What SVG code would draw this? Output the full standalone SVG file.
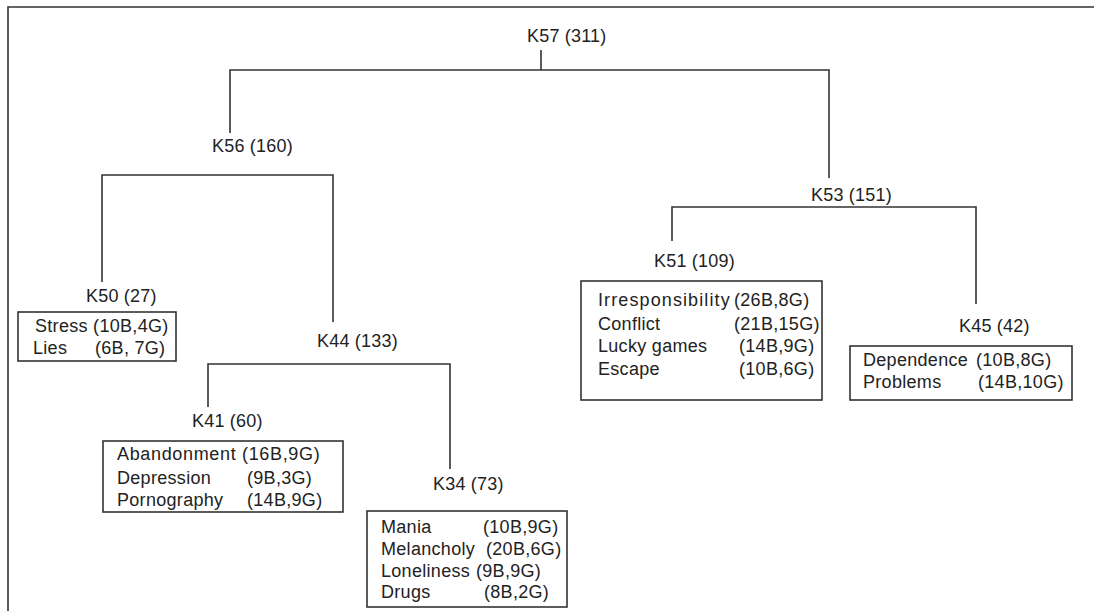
<svg xmlns="http://www.w3.org/2000/svg" width="1094" height="611" viewBox="0 0 1094 611">
<style>
text{font-family:"Liberation Sans",Arial,sans-serif;font-size:18px;fill:#222;letter-spacing:0.3px}
.lbl{letter-spacing:0.2px}
.ln{stroke:#333;stroke-width:1.6;fill:none}
.box{stroke:#333;stroke-width:1.6;fill:#fff}
</style>
<rect width="1094" height="611" fill="#fff"/>
<g id="frame"><path class="ln" d="M8,611 V7 H1094" stroke-width="2"/></g>
<g id="connectors">
<path class="ln" d="M541,50 V70 M230,133 V70 H829 V178"/>
<path class="ln" d="M102,282 V175 H333 V322"/>
<path class="ln" d="M208,407 V364 H450 V469"/>
<path class="ln" d="M672,241 V207 H976 V304"/>
</g>
<g id="K57"><text class="lbl" x="527" y="42">K57 (311)</text></g>
<g id="K56"><text class="lbl" x="212" y="152">K56 (160)</text></g>
<g id="K53"><text class="lbl" x="811" y="201">K53 (151)</text></g>
<g id="K50">
<text class="lbl" x="86" y="302">K50 (27)</text>
<rect class="box" x="18" y="312" width="158" height="49"/>
<text x="35" y="332">Stress (10B,4G)</text>
<text x="33" y="354">Lies</text><text x="95" y="354">(6B, 7G)</text>
</g>
<g id="K44"><text class="lbl" x="317" y="347">K44 (133)</text></g>
<g id="K41">
<text class="lbl" x="192" y="427">K41 (60)</text>
<rect class="box" x="103" y="441" width="240" height="71"/>
<text x="117" y="460" textLength="203" lengthAdjust="spacing">Abandonment (16B,9G)</text>
<text x="117" y="484">Depression</text><text x="247" y="484">(9B,3G)</text>
<text x="117" y="506">Pornography</text><text x="247" y="506">(14B,9G)</text>
</g>
<g id="K34">
<text class="lbl" x="433" y="490">K34 (73)</text>
<rect class="box" x="367" y="511" width="200" height="96"/>
<text x="381" y="533">Mania</text><text x="483" y="533">(10B,9G)</text>
<text x="381" y="555">Melancholy</text><text x="486" y="555">(20B,6G)</text>
<text x="381" y="577">Loneliness</text><text x="476" y="577">(9B,9G)</text>
<text x="381" y="598">Drugs</text><text x="484" y="598">(8B,2G)</text>
</g>
<g id="K51">
<text class="lbl" x="654" y="267">K51 (109)</text>
<rect class="box" x="581" y="281" width="241" height="119"/>
<text x="598" y="306" textLength="132" lengthAdjust="spacing">Irresponsibility</text><text x="734" y="306">(26B,8G)</text>
<text x="598" y="330">Conflict</text><text x="734" y="330">(21B,15G)</text>
<text x="598" y="352">Lucky games</text><text x="739" y="352">(14B,9G)</text>
<text x="598" y="375">Escape</text><text x="739" y="375">(10B,6G)</text>
</g>
<g id="K45">
<text class="lbl" x="959" y="332">K45 (42)</text>
<rect class="box" x="850" y="346" width="222" height="54"/>
<text x="863" y="366">Dependence</text><text x="976" y="366">(10B,8G)</text>
<text x="863" y="388">Problems</text><text x="978" y="388">(14B,10G)</text>
</g>
</svg>
